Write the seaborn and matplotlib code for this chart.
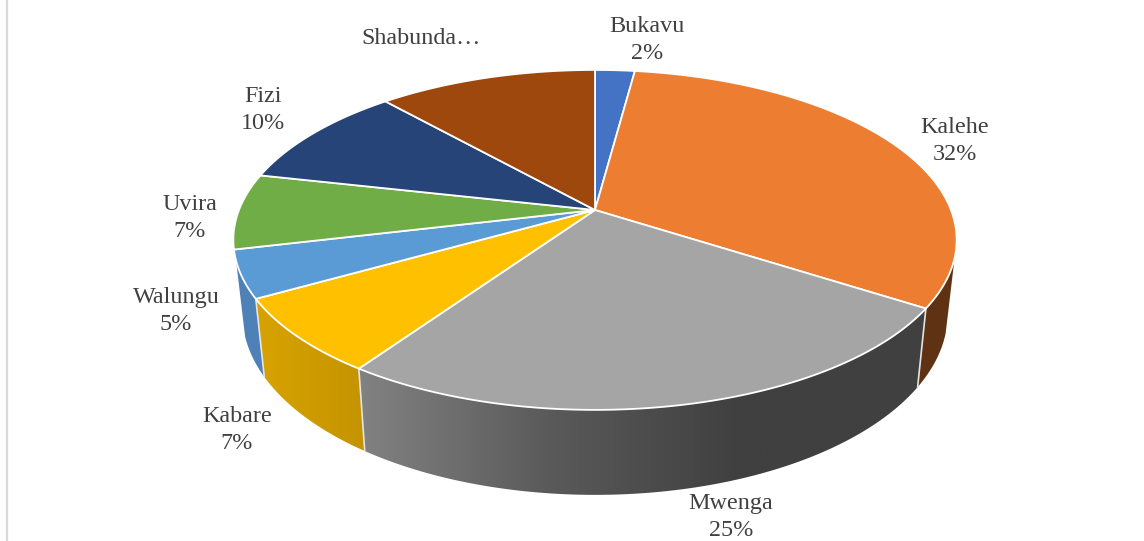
import numpy as np
import seaborn as sns
import matplotlib.pyplot as plt

# Slices, clockwise from 12 o'clock
districts = ['Bukavu', 'Kalehe', 'Mwenga', 'Kabare', 'Walungu', 'Uvira', 'Fizi', 'Shabunda']
shares = [2.1, 32.0, 25.5, 7.2, 4.5, 7.2, 9.9, 11.6]
labels = ['Bukavu\n2%', 'Kalehe\n32%', 'Mwenga\n25%', 'Kabare\n7%',
          'Walungu\n5%', 'Uvira\n7%', 'Fizi\n10%', 'Shabunda…']
label_x = [647, 955, 731, 237, 176, 190, 263, 421]
label_y = [40, 141, 517, 430, 311, 218, 110, 39]
top_colors = ['#4472c4', '#ed7d31', '#a5a5a5', '#ffc000', '#5b9bd5', '#70ad47', '#264478', '#9e480e']

# Wall shading, left colour to right colour
wall_ramps = {
    'Kalehe': ['#5f3213', '#5f3213'],
    'Mwenga': ['#828282', '#5a5a5a', '#404040', '#404040'],
    'Kabare': ['#d8a300', '#c49400'],
    'Walungu': ['#4e81b7', '#4e81b7'],
}

# Perspective of the pie, in image pixels
CX, CY = 595, 210
R, S, P = 356, 164.7, 0.176
WALL_SCALE, WALL_OFFSET, WALL_STRETCH = 0.975, 72.4, 1.063
WALL_FROM, WALL_TO = 106, 253

sns.set_theme(style='white')
plt.rcParams['font.family'] = ['Liberation Serif', 'DejaVu Serif']


def top_edge(theta):
    t = np.radians(theta)
    u, v = np.sin(t), np.cos(t)
    w = 1 + P * v
    return CX + R * u / w, CY - S * v / w


def bottom_edge(theta):
    x, y = top_edge(theta)
    return CX + WALL_SCALE * (x - CX), CY + WALL_OFFSET + WALL_STRETCH * (y - CY)


fig = plt.figure(figsize=(11.44, 5.41), dpi=100)
ax = fig.add_axes([0, 0, 1, 1])

ax.plot([7, 7], [0, 541], color='#d9d9d9', lw=1.6)

edges = np.concatenate([[0], np.cumsum(shares)]) / np.sum(shares) * 360
palette = sns.color_palette(top_colors)

# Walls first: a horizontal gradient image clipped to each slice's wall
for name, a, b in zip(districts, edges[:-1], edges[1:]):
    if name not in wall_ramps:
        continue
    steps = np.linspace(max(a, WALL_FROM), min(b, WALL_TO), 100)
    tx, ty = top_edge(steps)
    bx, by = bottom_edge(steps)
    xs = np.r_[tx, bx[::-1]]
    ys = np.r_[ty, by[::-1]]
    outline = ax.fill(xs, ys, facecolor='none', edgecolor='none', zorder=2)[0]
    ramp = np.array(sns.blend_palette(wall_ramps[name], n_colors=256))[None, :, :3]
    img = ax.imshow(ramp, extent=[xs.min(), xs.max(), ys.max(), ys.min()], aspect='auto',
                    interpolation='bilinear', zorder=2)
    img.set_clip_path(outline)

# Light seams between the walls
for e in edges[1:-1]:
    if WALL_FROM < e < WALL_TO:
        x0, y0 = top_edge(e)
        x1, y1 = bottom_edge(e)
        ax.plot([x0, x1], [y0, y1], color='#e4e4e4', lw=1.2, zorder=3)

# Top face
for color, a, b in zip(palette, edges[:-1], edges[1:]):
    arc = np.linspace(a, b, 120)
    xs, ys = top_edge(arc)
    ax.fill(np.r_[CX, xs], np.r_[CY, ys], facecolor=color, edgecolor='white',
            lw=1.3, joinstyle='round', zorder=4)

for text, x, y in zip(labels, label_x, label_y):
    ax.text(x, y, text, ha='center', va='center', fontsize=17.4, color='#404040',
            linespacing=1.32, zorder=5)

ax.set_xlim(0, 1144)
ax.set_ylim(541, 0)
ax.axis('off')

fig.savefig('out.png', dpi=100, facecolor='white')
